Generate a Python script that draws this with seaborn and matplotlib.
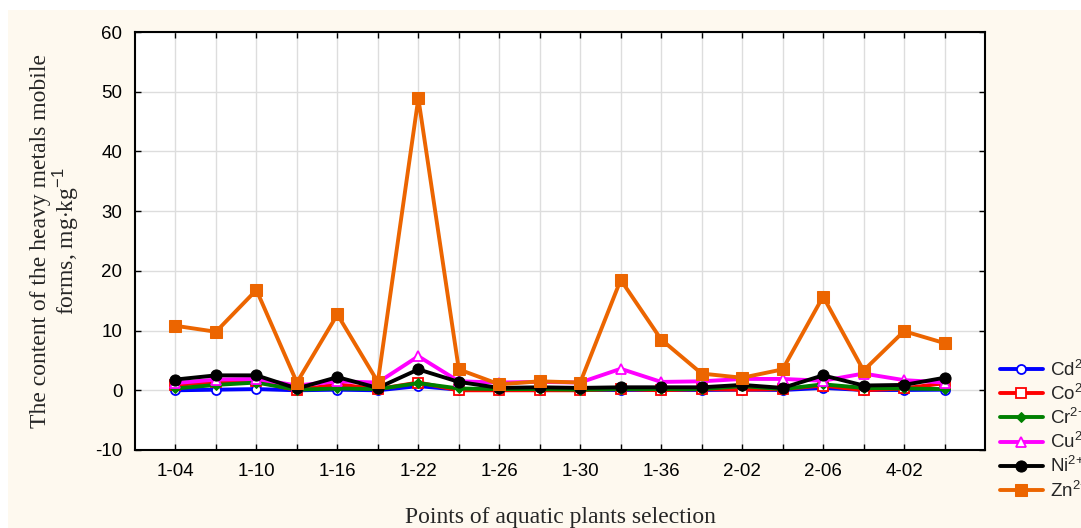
import numpy as np
import pandas as pd
import seaborn as sns
import matplotlib.pyplot as plt
from matplotlib.patches import Rectangle

points = ['1-04', '1-07', '1-10', '1-13', '1-16', '1-19', '1-22', '1-24', '1-26', '1-28',
          '1-30', '1-33', '1-36', '1-38', '2-02', '2-04', '2-06', '2-08', '4-02', '4-04']
cd = [0.0, 0.1, 0.2, 0.0, 0.1, 0.0, 0.7, 0.1, 0.05, 0.05, 0.05, 0.05, 0.05, 0.05, 0.1, 0.05, 0.4, 0.05, 0.05, 0.1]
co = [0.9, 1.4, 1.5, 0.0, 1.0, 0.2, 1.3, 0.0, 0.0, 0.0, 0.0, 0.2, 0.0, 0.2, 0.1, 0.2, 0.8, 0.0, 0.3, 1.2]
cr = [0.3, 0.9, 1.3, 0.1, 0.3, 0.2, 1.2, 0.3, 0.2, 0.2, 0.1, 0.2, 0.2, 0.2, 0.7, 0.2, 1.0, 0.4, 0.3, 0.2]
cu = [1.2, 1.8, 1.9, 0.8, 1.5, 1.3, 5.7, 1.5, 1.3, 1.4, 1.3, 3.6, 1.4, 1.5, 1.9, 1.9, 1.6, 2.8, 1.7, 1.3]
ni = [1.8, 2.5, 2.5, 0.3, 2.2, 0.4, 3.5, 1.4, 0.4, 0.5, 0.4, 0.5, 0.5, 0.5, 0.9, 0.4, 2.5, 0.8, 0.9, 2.1]
zn = [10.8, 9.8, 16.8, 1.3, 12.7, 1.4, 48.9, 3.5, 1.0, 1.5, 1.3, 18.5, 8.5, 2.8, 2.1, 3.5, 15.7, 3.3, 9.9, 7.9]

series = [
    ('Cd$^{2{+}}$', cd, '#0000ff', 'o', 'none'),
    ('Co$^{2{+}}$', co, '#ff0000', 's', 'none'),
    ('Cr$^{2{+}}$', cr, '#008000', 'D', 'full'),
    ('Cu$^{2{+}}$', cu, '#ff00ff', '^', 'none'),
    ('Ni$^{2{+}}$', ni, '#000000', 'o', 'full'),
    ('Zn$^{2{+}}$', zn, '#ec6500', 's', 'full'),
]

sns.set_style('white')
plt.rcParams['font.family'] = ['Liberation Sans', 'DejaVu Sans']
plt.rcParams['mathtext.fontset'] = 'custom'
plt.rcParams['mathtext.rm'] = 'Liberation Sans'
plt.rcParams['mathtext.it'] = 'Liberation Sans:italic'
plt.rcParams['axes.unicode_minus'] = False

bg = '#fef9ef'
fig = plt.figure(figsize=(10.81, 5.28), dpi=100, facecolor='white')
fig.patches.append(Rectangle((8/1081, 0), 1, 1-10/528, transform=fig.transFigure,
                             facecolor=bg, edgecolor='none', zorder=-10))
ax = fig.add_axes([135/1081, 1-450/528, (985-135)/1081, (450-32)/528])
ax.set_facecolor('white')

x = np.arange(len(points))
for name, vals, col, mk, fill in series:
    df = pd.DataFrame({'x': x, 'y': vals})
    if fill == 'none':
        sns.lineplot(data=df, x='x', y='y', ax=ax, color=col, linewidth=2.8, marker=mk,
                     markersize=6.5, markerfacecolor='white', markeredgecolor=col,
                     markeredgewidth=1.3, label=name, sort=False)
    else:
        sns.lineplot(data=df, x='x', y='y', ax=ax, color=col, linewidth=2.8, marker=mk,
                     markersize=8 if mk != 'D' else 5.5, markerfacecolor=col, markeredgecolor=col,
                     label=name, sort=False)

ax.set_xlim(-1, 20)
ax.set_ylim(-10, 60)
ax.set_xticks(x)
ax.set_xticklabels([p if i % 2 == 0 else '' for i, p in enumerate(points)])
ax.set_yticks(np.arange(-10, 61, 10))
ax.grid(True, color='#dddddd', linewidth=1)
ax.tick_params(direction='in', length=4, width=1, labelsize=13.5, right=True, left=True,
               top=True, bottom=True, labelright=False, pad=9, colors='black')
for s in ax.spines.values():
    s.set_color('black')
    s.set_linewidth(1.5)

ax.set_xlabel('Points of aquatic plants selection', family='Liberation Serif', fontsize=17, labelpad=20)
ax.set_ylabel('The content of the heavy metals mobile\nforms, mg$\\cdot$kg$^{-1}$',
              family='Liberation Serif', fontsize=17, labelpad=10, linespacing=1.0)

handles, labels = ax.get_legend_handles_labels()
ax.get_legend().remove()
fig.legend(handles, labels, loc='upper left', bbox_to_anchor=(992/1081, 1-352/528),
           frameon=False, fontsize=13.5, handlelength=2.3, labelspacing=0.22,
           handletextpad=0.4, borderaxespad=0)

fig.savefig('out.png', dpi=100, facecolor='white')
